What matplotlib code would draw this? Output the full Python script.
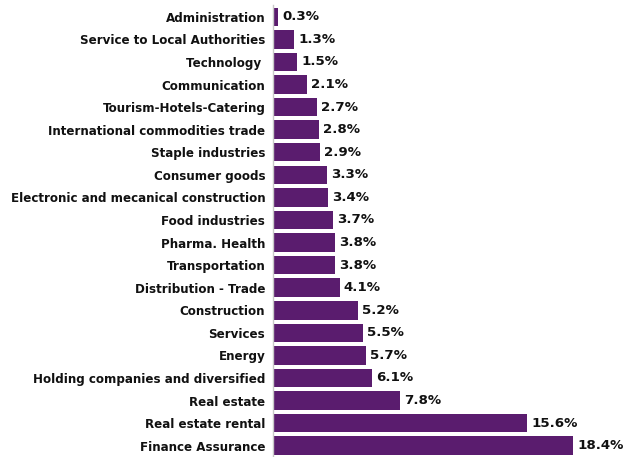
import matplotlib
matplotlib.use("Agg")
import matplotlib.pyplot as plt

categories = ["Administration", "Service to Local Authorities", "Technology ", "Communication",
              "Tourism-Hotels-Catering", "International commodities trade", "Staple industries",
              "Consumer goods", "Electronic and mecanical construction", "Food industries",
              "Pharma. Health", "Transportation", "Distribution - Trade", "Construction",
              "Services", "Energy", "Holding companies and diversified", "Real estate",
              "Real estate rental", "Finance Assurance"]
values = [0.3, 1.3, 1.5, 2.1, 2.7, 2.8, 2.9, 3.3, 3.4, 3.7, 3.8, 3.8, 4.1, 5.2, 5.5, 5.7,
          6.1, 7.8, 15.6, 18.4]

fig = plt.figure(figsize=(6.25, 4.57), dpi=100)
ax = fig.add_axes([273/625, 0.0, 352/625, (457-5.5)/457])
ypos = list(range(len(categories)))
ax.barh(ypos, values, height=0.82, color="#5a1c6e")
ax.set_ylim(len(categories) - 0.5, -0.5)
ax.set_xlim(0, 352/16.3)
ax.set_yticks(ypos)
ax.set_yticklabels(categories, fontsize=8.6, fontweight="bold", color="#111111")
ax.tick_params(axis="y", length=0, pad=5.5)
ax.set_xticks([])
for s in ["top", "right", "bottom"]:
    ax.spines[s].set_visible(False)
ax.spines["left"].set_color("#c8c8c8")
ax.spines["left"].set_linewidth(1)
for y, v in zip(ypos, values):
    ax.text(v + 0.25, y, f"{v:.1f}%", va="center", ha="left", fontsize=9.6,
            fontweight="bold", color="#111111")
fig.savefig("out.png", dpi=100)
